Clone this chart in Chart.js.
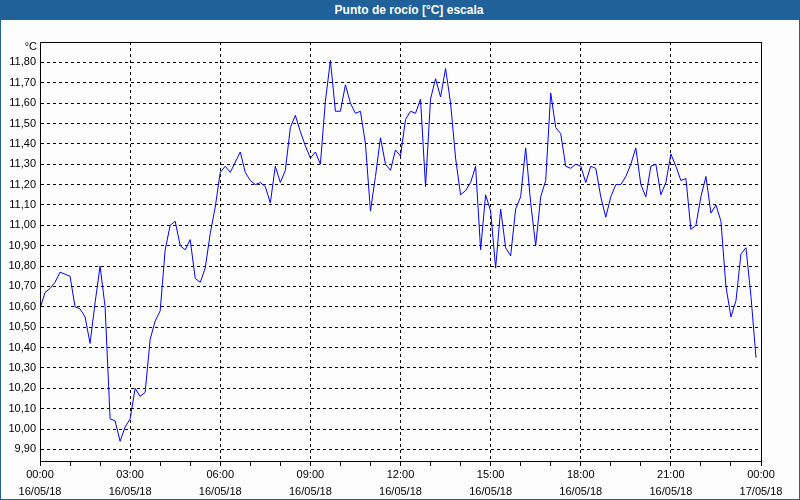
<!DOCTYPE html>
<html>
<head>
<meta charset="utf-8">
<script src="https://cdn.jsdelivr.net/npm/chart.js@4"></script>
<style>
  html, body { margin: 0; padding: 0; background: #fcfdfc; }
  #wrap { position: relative; width: 800px; height: 500px; box-sizing: border-box; border: 1px solid #1f6198; background: #fcfdfc; overflow: hidden; }
  #title { height: 19px; background: #1f6198; color: #fff; font: bold 12px "Liberation Sans", Arial, sans-serif; line-height: 19px; text-align: center; padding-left: 18px; box-sizing: border-box; }
  #cv { display: block; }
</style>
</head>
<body>
<div id="wrap">
  <div id="title">Punto de rocío [°C] escala</div>
  <canvas id="cv" width="798" height="479"></canvas>
</div>
<script>
// 10-minute readings, 16/05/18 00:00 .. 23:50
const stepMinutes = 10;
const dewPoint = [
  10.59,10.67,10.69,10.72,10.77,10.76,10.75,10.60,10.59,10.55,10.42,10.62,10.80,10.60,10.05,10.04,9.94,10.01,10.05,10.20,10.16,10.18,10.44,10.53,10.58,10.88,11.00,11.02,10.90,10.88,
  10.93,10.74,10.72,10.79,10.96,11.09,11.26,11.29,11.26,11.31,11.36,11.26,11.22,11.20,11.21,11.19,11.11,11.29,11.21,11.27,11.48,11.54,11.46,11.39,11.33,11.36,11.30,11.61,11.81,
  11.56,11.56,11.69,11.60,11.55,11.56,11.40,11.07,11.24,11.43,11.30,11.27,11.37,11.34,11.52,11.56,11.55,11.62,11.19,11.62,11.72,11.63,11.77,11.60,11.33,11.15,11.17,11.21,11.29,
  10.88,11.15,11.07,10.79,11.08,10.89,10.85,11.08,11.14,11.38,11.11,10.90,11.14,11.22,11.65,11.48,11.45,11.29,11.28,11.30,11.29,11.21,11.29,11.28,11.14,11.04,11.14,
  11.20,11.20,11.24,11.30,11.38,11.20,11.14,11.29,11.30,11.15,11.21,11.35,11.29,11.22,11.23,10.98,11.00,11.14,11.24,11.06,11.10,11.02,10.70,10.55,10.63,10.86,10.89,10.65,10.35
];
const yTicks = [9.90,10.00,10.10,10.20,10.30,10.40,10.50,10.60,10.70,10.80,10.90,11.00,11.10,11.20,11.30,11.40,11.50,11.60,11.70,11.80];
const xTickMinutes = [0,180,360,540,720,900,1080,1260,1440];
const xTickLabels = [
  ['00:00','16/05/18'],['03:00','16/05/18'],['06:00','16/05/18'],['09:00','16/05/18'],
  ['12:00','16/05/18'],['15:00','16/05/18'],['18:00','16/05/18'],['21:00','16/05/18'],['00:00','17/05/18']
];
const unitLabel = '°C';

const points = dewPoint.map((v, i) => ({ x: i * stepMinutes, y: v }));
const FONT = { family: '"Liberation Sans", Arial, sans-serif', size: 11 };

const framePlugin = {
  id: 'frame',
  afterDraw(chart) {
    const { ctx, chartArea: a } = chart;
    ctx.save();
    ctx.strokeStyle = '#000';
    ctx.lineWidth = 1;
    ctx.setLineDash([]);
    ctx.strokeRect(Math.round(a.left) + 0.5, Math.round(a.top) + 0.5, Math.round(a.right - a.left), Math.round(a.bottom - a.top));
    ctx.fillStyle = '#000';
    ctx.font = '11px "Liberation Sans", Arial, sans-serif';
    ctx.textAlign = 'right';
    ctx.textBaseline = 'middle';
    ctx.fillText(unitLabel, a.left - 3, a.top + 5);
    ctx.restore();
  }
};

new Chart(document.getElementById('cv'), {
  type: 'line',
  data: {
    datasets: [{
      data: points,
      borderColor: '#0000ff',
      borderWidth: 1,
      pointRadius: 0,
      tension: 0,
      fill: false
    }]
  },
  options: {
    responsive: false,
    animation: false,
    events: [],
    layout: { padding: { top: 22, right: 38, left: 0, bottom: 0 } },
    plugins: { legend: { display: false }, tooltip: { enabled: false }, title: { display: false } },
    scales: {
      x: {
        type: 'linear',
        min: 0,
        max: 1440,
        afterFit(s) { s.height = 38; },
        afterBuildTicks(s) {
          const t = [];
          for (let m = 0; m <= 1440; m += 60) t.push({ value: m });
          s.ticks = t;
        },
        ticks: {
          autoSkip: false,
          maxRotation: 0,
          padding: 0,
          color: '#000',
          font: { family: FONT.family, size: 11, lineHeight: 1.55 },
          callback(v) {
            const idx = xTickMinutes.indexOf(v);
            return idx >= 0 ? xTickLabels[idx] : '';
          }
        },
        grid: {
          color: (c) => (c.tick && c.tick.value % 180 === 0) ? '#000' : 'rgba(0,0,0,0)',
          lineWidth: 1,
          drawTicks: true,
          tickLength: 5,
          tickColor: '#000',
          tickWidth: 1
        },
        border: { display: true, color: '#000', width: 1, dash: [3, 3] }
      },
      y: {
        type: 'linear',
        min: 9.843,
        max: 11.90,
        afterFit(s) { s.width = 39; },
        afterBuildTicks(s) { s.ticks = yTicks.map(v => ({ value: v })); },
        ticks: {
          padding: 4,
          color: '#000',
          font: FONT,
          callback(v) { return v.toFixed(2).replace('.', ','); }
        },
        grid: { color: '#000', lineWidth: 1, drawTicks: false },
        border: { display: true, color: '#000', width: 1, dash: [3, 3] }
      }
    }
  },
  plugins: [framePlugin]
});
</script>
</body>
</html>
